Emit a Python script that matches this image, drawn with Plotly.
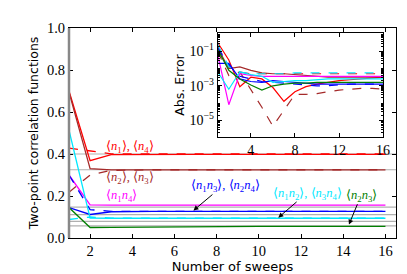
import plotly.graph_objects as go

sweeps = list(range(1, 17))

# main panel: two-point correlation functions
n1   = [0.700, 0.368, 0.397, 0.398, 0.398, 0.398, 0.398, 0.398, 0.398, 0.398, 0.398, 0.398, 0.398, 0.398, 0.398, 0.398]
n4   = [0.428, 0.413, 0.401, 0.400, 0.400, 0.400, 0.400, 0.400, 0.400, 0.400, 0.400, 0.400, 0.400, 0.400, 0.400, 0.400]
n2   = [0.695, 0.330, 0.324, 0.324, 0.324, 0.324, 0.324, 0.324, 0.324, 0.324, 0.324, 0.324, 0.324, 0.324, 0.324, 0.324]
n3   = [0.218, 0.300, 0.322, 0.325, 0.325, 0.325, 0.325, 0.325, 0.325, 0.325, 0.325, 0.325, 0.325, 0.325, 0.325, 0.325]
n1n4 = [0.300, 0.158, 0.157, 0.157, 0.157, 0.157, 0.157, 0.157, 0.157, 0.157, 0.157, 0.157, 0.157, 0.157, 0.157, 0.157]
n1n3 = [0.145, 0.112, 0.125, 0.127, 0.127, 0.127, 0.127, 0.127, 0.127, 0.127, 0.127, 0.127, 0.127, 0.127, 0.127, 0.127]
n2n4 = [0.300, 0.135, 0.127, 0.127, 0.127, 0.127, 0.127, 0.127, 0.127, 0.127, 0.127, 0.127, 0.127, 0.127, 0.127, 0.127]
n1n2 = [0.513, 0.095, 0.094, 0.094, 0.094, 0.094, 0.094, 0.094, 0.094, 0.094, 0.094, 0.094, 0.094, 0.094, 0.094, 0.094]
n3n4 = [0.088, 0.100, 0.095, 0.094, 0.094, 0.094, 0.094, 0.094, 0.094, 0.094, 0.094, 0.094, 0.094, 0.094, 0.094, 0.094]
n2n3 = [0.145, 0.050, 0.051, 0.052, 0.053, 0.054, 0.054, 0.055, 0.055, 0.055, 0.055, 0.055, 0.055, 0.055, 0.055, 0.055]
reference_values = [0.400, 0.325, 0.147, 0.111, 0.079, 0.058]

# inset: absolute error (log10 values)
e_n1_log10   = [-0.5, -1.5, -3.05, -2.5, -2.6, -3.1, -3.9, -3.35, -3.05, -2.9, -2.8, -2.7, -2.65, -2.6, -2.55, -2.5]
e_n4_log10   = [-0.7, -1.9, -2.2, -2.3, -2.3, -2.3, -2.3, -2.3, -2.3, -2.3, -2.3, -2.3, -2.3, -2.3, -2.3, -2.3]
e_n2_log10   = [-0.8, -2.0, -1.9, -2.1, -2.25, -2.3, -2.3, -2.35, -2.4, -2.45, -2.5, -2.5, -2.5, -2.5, -2.5, -2.5]
e_n3_log10   = [-1.0, -2.4, -2.2, -3.2, -4.25, -5.35, -4.4, -3.5, -3.5, -3.45, -3.35, -3.25, -3.2, -3.15, -3.15, -3.2]
e_n1n4_log10 = [-1.2, -4.1, -2.3, -2.4, -2.45, -2.45, -2.45, -2.45, -2.45, -2.45, -2.45, -2.45, -2.45, -2.45, -2.45, -2.45]
e_n1n3_log10 = [-1.7, -1.7, -2.6, -2.75, -2.8, -2.7, -2.75, -2.8, -2.85, -2.9, -2.9, -2.9, -2.9, -2.9, -2.9, -2.9]
e_n2n4_log10 = [-0.8, -1.8, -2.45, -2.6, -2.75, -2.8, -2.85, -2.9, -2.95, -3.0, -3.0, -2.95, -2.9, -2.9, -2.9, -2.9]
e_n1n2_log10 = [-2.2, -3.2, -2.2, -2.35, -2.45, -2.8, -2.75, -2.7, -2.7, -2.65, -2.6, -2.6, -2.6, -2.6, -2.6, -2.6]
e_n3n4_log10 = [-0.6, -1.9, -2.2, -2.3, -2.3, -2.3, -2.3, -2.25, -2.25, -2.25, -2.25, -2.25, -2.25, -2.25, -2.25, -2.25]
e_n2n3_log10 = [-0.9, -2.1, -2.6, -2.95, -3.25, -3.0, -2.9, -2.85, -2.85, -2.8, -2.8, -2.8, -2.8, -2.8, -2.8, -2.8]

RED, BROWN, MAG, BLUE, CYAN, GREEN = "#ff0000", "#a52a2a", "#ff00ff", "#0000ff", "#00e8ff", "#008000"
GRAY = "#b0b0b0"
SERIF = "Liberation Serif"
SANS = "DejaVu Sans"

main_series = [
    (n1, RED, "solid"), (n4, RED, "dash"),
    (n2, BROWN, "solid"), (n3, BROWN, "dash"),
    (n1n4, MAG, "solid"),
    (n1n3, BLUE, "solid"), (n2n4, BLUE, "dash"),
    (n1n2, CYAN, "solid"), (n3n4, CYAN, "dash"),
    (n2n3, GREEN, "solid"),
]
inset_series = [
    (e_n1_log10, RED, "solid"), (e_n4_log10, RED, "dash"),
    (e_n2_log10, BROWN, "solid"), (e_n3_log10, BROWN, "dash"),
    (e_n1n4_log10, MAG, "solid"),
    (e_n1n3_log10, BLUE, "solid"), (e_n2n4_log10, BLUE, "dash"),
    (e_n1n2_log10, CYAN, "solid"), (e_n3n4_log10, CYAN, "dash"),
    (e_n2n3_log10, GREEN, "solid"),
]

fig = go.Figure()

for rv in reference_values:
    fig.add_trace(go.Scatter(x=[1, 16.5], y=[rv, rv], mode="lines",
                             line=dict(color=GRAY, width=1.2), xaxis="x", yaxis="y",
                             showlegend=False, hoverinfo="skip"))

for vals, col, dash in main_series:
    fig.add_trace(go.Scatter(x=sweeps, y=vals, mode="lines",
                             line=dict(color=col, width=1.3, dash=dash),
                             xaxis="x", yaxis="y", showlegend=False))

for vals, col, dash in inset_series:
    fig.add_trace(go.Scatter(x=sweeps, y=[10 ** v for v in vals], mode="lines",
                             line=dict(color=col, width=1.2, dash=dash),
                             xaxis="x2", yaxis="y2", showlegend=False))

tickfont = dict(family=SERIF, size=14.5, color="black")
fig.update_layout(
    width=407, height=274,
    margin=dict(l=61, r=16, t=14, b=36),
    paper_bgcolor="white", plot_bgcolor="white",
    xaxis=dict(domain=[0, 1], range=[1, 16.5], tickvals=[2, 4, 6, 8, 10, 12, 14, 16],
               ticks="inside", ticklen=4, tickcolor="black", mirror="allticks",
               showline=True, linecolor="black", linewidth=1, showgrid=False, zeroline=False,
               tickfont=tickfont,
               title=dict(text="Number of sweeps", font=dict(family=SANS, size=13, color="black"),
                          standoff=1)),
    yaxis=dict(domain=[0, 1], range=[0, 1.0], tickvals=[0, 0.2, 0.4, 0.6, 0.8, 1.0],
               ticktext=["0.0", "0.2", "0.4", "0.6", "0.8", "1.0"],
               ticks="inside", ticklen=4, tickcolor="black", mirror="allticks",
               showline=True, linecolor="black", linewidth=1, showgrid=False, zeroline=False,
               tickfont=tickfont,
               title=dict(text="Two-point correlation functions",
                          font=dict(family=SANS, size=12.5, color="black"), standoff=5)),
    xaxis2=dict(domain=[0.455, 0.9606], range=[1, 16], tickvals=[4, 8, 12, 16],
                anchor="y2", ticks="inside", ticklen=4, tickcolor="black", mirror="allticks",
                showline=True, linecolor="black", linewidth=1, showgrid=False, zeroline=False,
                tickfont=dict(family=SERIF, size=14, color="black")),
    yaxis2=dict(domain=[0.479, 0.978], type="log", range=[-6, 0.09],
                tickvals=[1e-5, 1e-3, 1e-1],
                ticktext=["10<sup>−5</sup>", "10<sup>−3</sup>", "10<sup>−1</sup>"],
                anchor="x2", ticks="inside", ticklen=4, tickcolor="black", mirror="allticks",
                minor=dict(ticks="inside", ticklen=2, tickcolor="black",
                           dtick="D1", showgrid=False),
                showline=True, linecolor="black", linewidth=1, showgrid=False, zeroline=False,
                tickfont=dict(family=SERIF, size=14, color="black"),
                title=dict(text="Abs. Error", font=dict(family=SANS, size=12.5, color="black"),
                           standoff=2)),
)

fig.add_shape(type="line", xref="paper", yref="paper", x0=0, x1=0, y0=0, y1=1,
              line=dict(color="#888888", width=2.5))


def lab(a):
    return f"⟨<i>n</i><sub>{a}</sub>⟩"


def lab2(a, b):
    return f"⟨<i>n</i><sub>{a}</sub><i>n</i><sub>{b}</sub>⟩"


labels = [
    (lab(1) + ", " + lab(4), 3.9, 0.432, RED),
    (lab(2) + ", " + lab(3), 3.9, 0.285, BROWN),
    (lab2(1, 4), 3.5, 0.200, MAG),
    (lab2(1, 3) + ", " + lab2(2, 4), 8.4, 0.248, BLUE),
    (lab2(1, 2) + ", " + lab2(3, 4), 12.3, 0.210, CYAN),
    (lab2(2, 3), 14.85, 0.200, GREEN),
]
for txt, xx, yy, col in labels:
    fig.add_annotation(x=xx, y=yy, xref="x", yref="y", text=txt, showarrow=False,
                       font=dict(family=SERIF, size=12.5, color=col))

arrows = [
    ((7.87, 0.213), (6.9, 0.131)),
    ((11.86, 0.178), (10.92, 0.097)),
    ((14.7, 0.168), (14.27, 0.064)),
]
for (tx, ty), (hx, hy) in arrows:
    fig.add_annotation(x=hx, y=hy, ax=tx, ay=ty, xref="x", yref="y", axref="x", ayref="y",
                       text="", showarrow=True, arrowhead=2, arrowsize=1, arrowwidth=1,
                       arrowcolor="black")

fig.write_html("out.html")
